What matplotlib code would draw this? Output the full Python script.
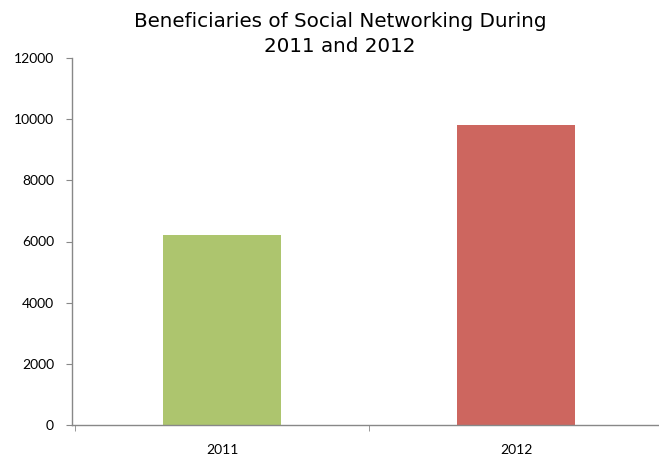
import matplotlib
matplotlib.use("Agg")
import matplotlib.pyplot as plt

categories = ["2011", "2012"]
values = [6200, 9800]
colors = ["#ADC56E", "#CD665F"]
yticks = [0, 2000, 4000, 6000, 8000, 10000, 12000]

fig = plt.figure(figsize=(6.59, 4.57), dpi=100)
ax = fig.add_axes([72/659, 1-425/457, (659-72)/659, (425-58)/457])
x = range(len(categories))
ax.bar(x, values, width=0.4, color=colors, zorder=2)
ax.set_xlim(-(222-72)/294, (659-222)/294)
ax.set_ylim(0, 12000)
ax.set_yticks(yticks)
ax.set_yticklabels([str(v) for v in yticks], fontsize=10, family="Lato")
ax.set_xticks(list(x))
ax.set_xticklabels(categories, fontsize=10, family="Lato")
ax.tick_params(axis="x", length=0, pad=14)
ax.tick_params(axis="y", length=4, color="#888888", pad=9, direction="out")
ax.set_xticks([-0.5, 0.5], minor=True)
ax.tick_params(axis="x", which="minor", length=4, color="#888888", direction="out")
for s in ["top", "right"]:
    ax.spines[s].set_visible(False)
for s in ["left", "bottom"]:
    ax.spines[s].set_color("#888888")
    ax.spines[s].set_linewidth(1.0)
fig.text(340/659, 1-34/457, "Beneficiaries of Social Networking During\n2011 and 2012",
         ha="center", va="center", fontsize=14.3, family="DejaVu Sans", linespacing=1.4)
fig.savefig("out.png", dpi=100)
